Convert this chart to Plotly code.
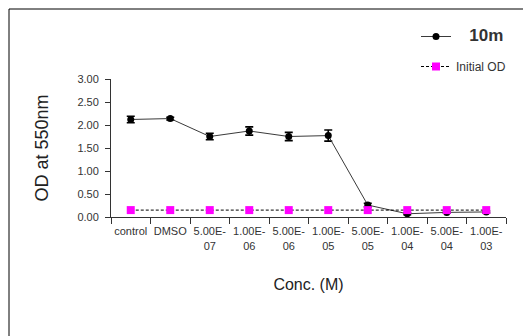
import plotly.graph_objects as go

categories = ["control", "DMSO", "5.00E-<br>07", "1.00E-<br>06", "5.00E-<br>06",
              "1.00E-<br>05", "5.00E-<br>05", "1.00E-<br>04", "5.00E-<br>04", "1.00E-<br>03"]
od_10m = [2.12, 2.14, 1.75, 1.87, 1.75, 1.77, 0.26, 0.07, 0.10, 0.11]
err_10m = [0.07, 0.03, 0.07, 0.09, 0.09, 0.12, 0.04, 0.02, 0.02, 0.02]
initial_od = [0.15, 0.15, 0.15, 0.15, 0.15, 0.15, 0.15, 0.15, 0.15, 0.15]
y_ticks = [0, 0.5, 1.0, 1.5, 2.0, 2.5, 3.0]

idx = list(range(len(categories)))
bounds = [i - 0.5 for i in range(len(categories) + 1)]
FONT = "Liberation Sans, Arial, sans-serif"
NB = "\u00a0"

fig = go.Figure()
fig.add_trace(go.Scatter(
    x=idx, y=od_10m, mode="lines+markers",
    name=NB * 4 + "<span style='font-size:17px'><b>10m</b></span>",
    line=dict(color="#3a3a3a", width=1),
    marker=dict(color="black", size=7, symbol="circle"),
    error_y=dict(type="data", array=err_10m, color="black", thickness=1.6, width=4),
    legendgroup="a",
))
fig.add_trace(go.Scatter(
    x=idx, y=initial_od, mode="lines+markers", name="Initial OD",
    line=dict(color="black", width=1, dash="3px,2px"),
    marker=dict(color="#FF00FF", size=8, symbol="square"),
    legendgroup="b", xaxis="x2",
))

L, R, T, B = 111, 17, 79, 119
W, H = 523, 336
pw = W - L - R
ph = H - T - B

fig.update_layout(
    width=W, height=H,
    margin=dict(l=L, r=R, t=T, b=B, pad=0),
    paper_bgcolor="white", plot_bgcolor="white",
    font=dict(family=FONT, color="#333333"),
    showlegend=True,
    legend=dict(x=(416 - L) / pw, y=(H - B - 22) / ph, xanchor="left", yanchor="top",
                font=dict(family=FONT, size=12, color="#333333"),
                tracegroupgap=11, bgcolor="rgba(0,0,0,0)", itemwidth=30),
    xaxis=dict(range=[-0.5, len(categories) - 0.5], tickmode="array", tickvals=idx,
               ticktext=categories, ticks="outside", ticklen=4, tickcolor="rgba(0,0,0,0)",
               showline=True, linecolor="#333333", linewidth=1,
               showgrid=False, zeroline=False, tickfont=dict(size=11, family=FONT, color="#333333"),
               title=dict(text="Conc. (M)", font=dict(size=16, family=FONT, color="#222222"), standoff=28)),
    xaxis2=dict(range=[-0.5, len(categories) - 0.5], overlaying="x", side="bottom",
                tickmode="array", tickvals=bounds, showticklabels=False, ticks="outside",
                ticklen=6, tickcolor="#333333", showline=False, showgrid=False, zeroline=False),
    yaxis=dict(range=[0, 3], tickmode="array", tickvals=y_ticks,
               ticktext=[f"{v:.2f}" for v in y_ticks], ticks="outside", ticklen=5,
               tickcolor="#333333", showline=True, linecolor="#333333", linewidth=1,
               ticklabelstandoff=4,
               showgrid=False, zeroline=False, tickfont=dict(size=11, family=FONT, color="#333333"),
               title=dict(text="OD at 550nm", font=dict(size=18, family=FONT, color="#222222"), standoff=24)),
)

# outer frame of the original figure (pixel positions)
fx0, fy0 = 9, 9
fig.add_shape(type="rect", xref="paper", yref="paper",
              x0=(fx0 - L) / pw, x1=(W + 5 - L) / pw,
              y0=(H - B - (H + 5)) / ph, y1=(H - B - fy0) / ph,
              line=dict(color="black", width=1), layer="below")

fig.write_html("out.html")
